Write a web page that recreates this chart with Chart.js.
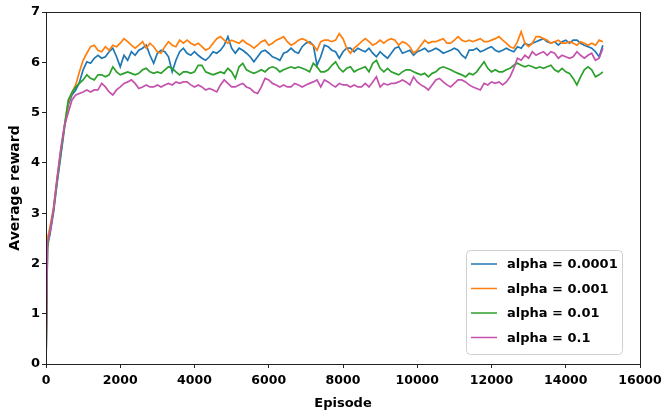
<!DOCTYPE html>
<html>
<head>
<meta charset="utf-8">
<script src="https://cdn.jsdelivr.net/npm/chart.js@4.4.1/dist/chart.umd.min.js"></script>
<style>
  html, body { margin: 0; padding: 0; background: #fff; }
  #chart { display: block; }
</style>
</head>
<body>
<canvas id="chart" width="668" height="414"></canvas>
<script>
// episode axis: first drop at ~40, then every 100 episodes
const episodes = [0, 40];
for (let ep = 100; ep <= 15000; ep += 100) episodes.push(ep);

const seriesLabels = ["alpha = 0.0001", "alpha = 0.001", "alpha = 0.01", "alpha = 0.1"];
const xTicks = [0, 2000, 4000, 6000, 8000, 10000, 12000, 14000, 16000];
const yTicks = [0, 1, 2, 3, 4, 5, 6, 7];

const alpha0001 = [
  0, 2.4, 2.55, 3.0, 3.6, 4.15, 4.7, 5.15, 5.35, 5.45, 5.6,
  5.85, 6.01, 5.98, 6.08, 6.14, 6.08, 6.11, 6.21, 6.28, 6.11,
  5.91, 6.14, 6.04, 6.21, 6.14, 6.24, 6.28, 6.34, 6.14, 5.98,
  6.18, 6.24, 6.21, 6.11, 5.81, 6.04, 6.21, 6.28, 6.18, 6.14,
  6.21, 6.14, 6.08, 6.04, 6.11, 6.21, 6.18, 6.24, 6.34, 6.51,
  6.28, 6.18, 6.28, 6.24, 6.18, 6.11, 6.01, 6.11, 6.21, 6.24,
  6.18, 6.11, 6.08, 6.04, 6.18, 6.21, 6.28, 6.21, 6.18, 6.31,
  6.38, 6.41, 6.34, 5.94, 6.11, 6.34, 6.31, 6.24, 6.21, 6.08,
  6.21, 6.28, 6.28, 6.21, 6.28, 6.24, 6.21, 6.28, 6.18, 6.11,
  6.21, 6.14, 6.08, 6.18, 6.28, 6.31, 6.18, 6.21, 6.24, 6.14,
  6.21, 6.24, 6.28, 6.21, 6.24, 6.28, 6.24, 6.18, 6.21, 6.24,
  6.28, 6.24, 6.14, 6.08, 6.24, 6.24, 6.28, 6.21, 6.24, 6.28,
  6.31, 6.24, 6.21, 6.24, 6.28, 6.24, 6.21, 6.31, 6.28, 6.38,
  6.34, 6.38, 6.41, 6.44, 6.47, 6.41, 6.38, 6.41, 6.34, 6.41,
  6.44, 6.38, 6.44, 6.44, 6.38, 6.34, 6.31, 6.28, 6.21, 6.11, 6.34
];

const alpha001 = [
  0, 2.5, 2.7, 3.1, 3.7, 4.25, 4.75, 5.2, 5.4, 5.55, 5.81,
  6.04, 6.18, 6.31, 6.34, 6.24, 6.21, 6.31, 6.24, 6.34, 6.31,
  6.38, 6.47, 6.41, 6.34, 6.28, 6.34, 6.41, 6.28, 6.38, 6.31,
  6.21, 6.18, 6.31, 6.41, 6.34, 6.31, 6.44, 6.38, 6.44, 6.38,
  6.34, 6.38, 6.31, 6.24, 6.28, 6.38, 6.47, 6.51, 6.44, 6.38,
  6.44, 6.41, 6.38, 6.44, 6.38, 6.34, 6.28, 6.34, 6.41, 6.44,
  6.34, 6.38, 6.44, 6.47, 6.51, 6.41, 6.34, 6.38, 6.44, 6.47,
  6.44, 6.38, 6.34, 6.24, 6.41, 6.44, 6.44, 6.41, 6.44, 6.57,
  6.47, 6.28, 6.18, 6.28, 6.34, 6.41, 6.47, 6.41, 6.34, 6.38,
  6.44, 6.38, 6.44, 6.47, 6.44, 6.34, 6.41, 6.38, 6.31, 6.18,
  6.24, 6.34, 6.44, 6.38, 6.41, 6.41, 6.44, 6.47, 6.38, 6.38,
  6.44, 6.51, 6.44, 6.41, 6.44, 6.41, 6.44, 6.47, 6.41, 6.41,
  6.44, 6.47, 6.51, 6.44, 6.38, 6.31, 6.28, 6.41, 6.61, 6.38,
  6.31, 6.38, 6.51, 6.51, 6.47, 6.44, 6.38, 6.41, 6.44, 6.38,
  6.38, 6.41, 6.38, 6.34, 6.41, 6.38, 6.34, 6.38, 6.34, 6.44, 6.41
];

const alpha01 = [
  0, 2.3, 2.6, 3.05, 3.65, 4.2, 4.75, 5.25, 5.4, 5.51, 5.58,
  5.65, 5.75, 5.68, 5.65, 5.75, 5.75, 5.71, 5.75, 5.91, 5.81,
  5.75, 5.78, 5.81, 5.78, 5.75, 5.78, 5.85, 5.88, 5.81, 5.78,
  5.81, 5.78, 5.85, 5.91, 5.88, 5.81, 5.75, 5.81, 5.81, 5.78,
  5.81, 5.94, 5.94, 5.81, 5.78, 5.75, 5.78, 5.81, 5.78, 5.88,
  5.81, 5.68, 5.91, 5.98, 5.85, 5.81, 5.78, 5.81, 5.85, 5.81,
  5.88, 5.91, 5.88, 5.81, 5.85, 5.88, 5.91, 5.88, 5.91, 5.88,
  5.85, 5.81, 5.98, 5.91, 5.81, 5.81, 5.85, 5.94, 6.01, 5.88,
  5.81, 5.88, 5.91, 5.81, 5.85, 5.88, 5.91, 5.81, 5.98, 6.04,
  5.88, 5.81, 5.88, 5.81, 5.78, 5.75, 5.81, 5.85, 5.85, 5.81,
  5.78, 5.75, 5.78, 5.71, 5.78, 5.81, 5.88, 5.91, 5.88, 5.85,
  5.81, 5.78, 5.75, 5.71, 5.78, 5.75, 5.81, 5.91, 6.01, 5.88,
  5.81, 5.85, 5.81, 5.81, 5.85, 5.88, 5.94, 5.98, 5.94, 5.91,
  5.94, 5.91, 5.88, 5.91, 5.88, 5.91, 5.94, 5.85, 5.81, 5.88,
  5.81, 5.78, 5.68, 5.55, 5.71, 5.85, 5.91, 5.85, 5.71, 5.75, 5.81
];

const alpha1 = [
  0, 2.4, 2.6, 3.05, 3.7, 4.3, 4.75, 5.0, 5.25, 5.35, 5.38,
  5.41, 5.45, 5.41, 5.45, 5.45, 5.58, 5.51, 5.41, 5.35, 5.45,
  5.51, 5.58, 5.61, 5.65, 5.58, 5.48, 5.51, 5.55, 5.51, 5.51,
  5.55, 5.51, 5.55, 5.58, 5.55, 5.61, 5.58, 5.61, 5.61, 5.55,
  5.51, 5.55, 5.51, 5.45, 5.48, 5.45, 5.41, 5.55, 5.65, 5.58,
  5.51, 5.51, 5.55, 5.58, 5.51, 5.48, 5.41, 5.38, 5.51, 5.68,
  5.65, 5.58, 5.55, 5.51, 5.55, 5.51, 5.51, 5.58, 5.55, 5.51,
  5.55, 5.58, 5.61, 5.65, 5.51, 5.65, 5.61, 5.55, 5.51, 5.58,
  5.55, 5.55, 5.51, 5.55, 5.51, 5.51, 5.58, 5.51, 5.61, 5.71,
  5.51, 5.58, 5.55, 5.58, 5.58, 5.61, 5.65, 5.61, 5.55, 5.71,
  5.61, 5.55, 5.51, 5.45, 5.55, 5.65, 5.68, 5.61, 5.55, 5.51,
  5.58, 5.65, 5.65, 5.61, 5.55, 5.51, 5.48, 5.45, 5.58, 5.55,
  5.61, 5.58, 5.61, 5.55, 5.61, 5.71, 5.88, 6.08, 6.04, 6.14,
  6.08, 6.21, 6.14, 6.18, 6.21, 6.14, 6.21, 6.18, 6.08, 6.14,
  6.11, 6.08, 6.11, 6.21, 6.14, 6.08, 6.14, 6.18, 6.04, 6.08, 6.28
];

const colors = ["#1f77b4", "#ff7f0e", "#2ca02c", "#c452ae"];
const allSeries = [alpha0001, alpha001, alpha01, alpha1];

const FONT = "'DejaVu Sans', sans-serif";

// matplotlib style frame on all four sides
const framePlugin = {
  id: "frame",
  afterDatasetsDraw(chart) {
    const { ctx, chartArea: a } = chart;
    ctx.save();
    ctx.strokeStyle = "#222222";
    ctx.lineWidth = 1;
    ctx.strokeRect(Math.round(a.left) + 0.5, Math.round(a.top) + 0.5,
      Math.round(a.right - a.left), Math.round(a.bottom - a.top));
    ctx.restore();
  },
};

// legend box placed inside the plot, lower right
const insideLegend = {
  id: "insideLegend",
  afterDraw(chart) {
    const { ctx } = chart;
    const x = 466, y = 250, w = 156, h = 104, r = 4;
    ctx.save();
    ctx.beginPath();
    ctx.roundRect(x + 0.5, y + 0.5, w, h, r);
    ctx.fillStyle = "rgba(255,255,255,0.85)";
    ctx.fill();
    ctx.strokeStyle = "#d0d0d0";
    ctx.lineWidth = 1;
    ctx.stroke();
    ctx.font = "bold 13px " + FONT;
    ctx.textBaseline = "middle";
    chart.data.datasets.forEach((ds, i) => {
      const cy = y + 14 + i * 24.5;
      ctx.strokeStyle = ds.borderColor;
      ctx.lineWidth = 1.5;
      ctx.beginPath();
      ctx.moveTo(x + 5, cy);
      ctx.lineTo(x + 31, cy);
      ctx.stroke();
      ctx.fillStyle = "#000";
      ctx.fillText(ds.label, x + 41, cy + 1);
    });
    ctx.restore();
  },
};

new Chart(document.getElementById("chart"), {
  type: "line",
  data: {
    datasets: allSeries.map((values, i) => ({
      label: seriesLabels[i],
      data: values.map((v, j) => ({ x: episodes[j], y: v })),
      borderColor: colors[i],
      backgroundColor: colors[i],
      borderWidth: 1.7,
      pointRadius: 0,
      tension: 0,
      order: 4 - i,
    })),
  },
  options: {
    responsive: false,
    animation: false,
    devicePixelRatio: 1,
    layout: { padding: { top: 12, right: 28, bottom: 0, left: 0 } },
    plugins: {
      legend: { display: false },
      tooltip: { enabled: false },
    },
    scales: {
      x: {
        type: "linear",
        min: xTicks[0],
        max: xTicks[xTicks.length - 1],
        afterBuildTicks: (scale) => { scale.ticks = xTicks.map((v) => ({ value: v })); },
        afterFit: (scale) => { scale.height = 50; },
        border: { display: false },
        grid: { drawOnChartArea: false, drawTicks: true, tickLength: 4, tickColor: "#222" },
        ticks: {
          color: "#000",
          padding: 5,
          maxRotation: 0,
          font: { family: FONT, size: 12.5, weight: "bold" },
          callback: (v) => String(v),
        },
        title: {
          display: true,
          text: "Episode",
          color: "#000",
          padding: { top: 0, bottom: 3 },
          font: { family: FONT, size: 13, weight: "bold" },
        },
      },
      y: {
        min: yTicks[0],
        max: yTicks[yTicks.length - 1],
        afterBuildTicks: (scale) => { scale.ticks = yTicks.map((v) => ({ value: v })); },
        afterFit: (scale) => { scale.width = 46; },
        border: { display: false },
        grid: { drawOnChartArea: false, drawTicks: true, tickLength: 4, tickColor: "#222" },
        ticks: {
          color: "#000",
          padding: 2,
          font: { family: FONT, size: 13, weight: "bold" },
          callback: (v) => String(v),
        },
        title: {
          display: true,
          text: "Average reward",
          color: "#000",
          padding: { top: 7, bottom: 0 },
          font: { family: FONT, size: 14, weight: "bold" },
        },
      },
    },
  },
  plugins: [framePlugin, insideLegend],
});
</script>
</body>
</html>
